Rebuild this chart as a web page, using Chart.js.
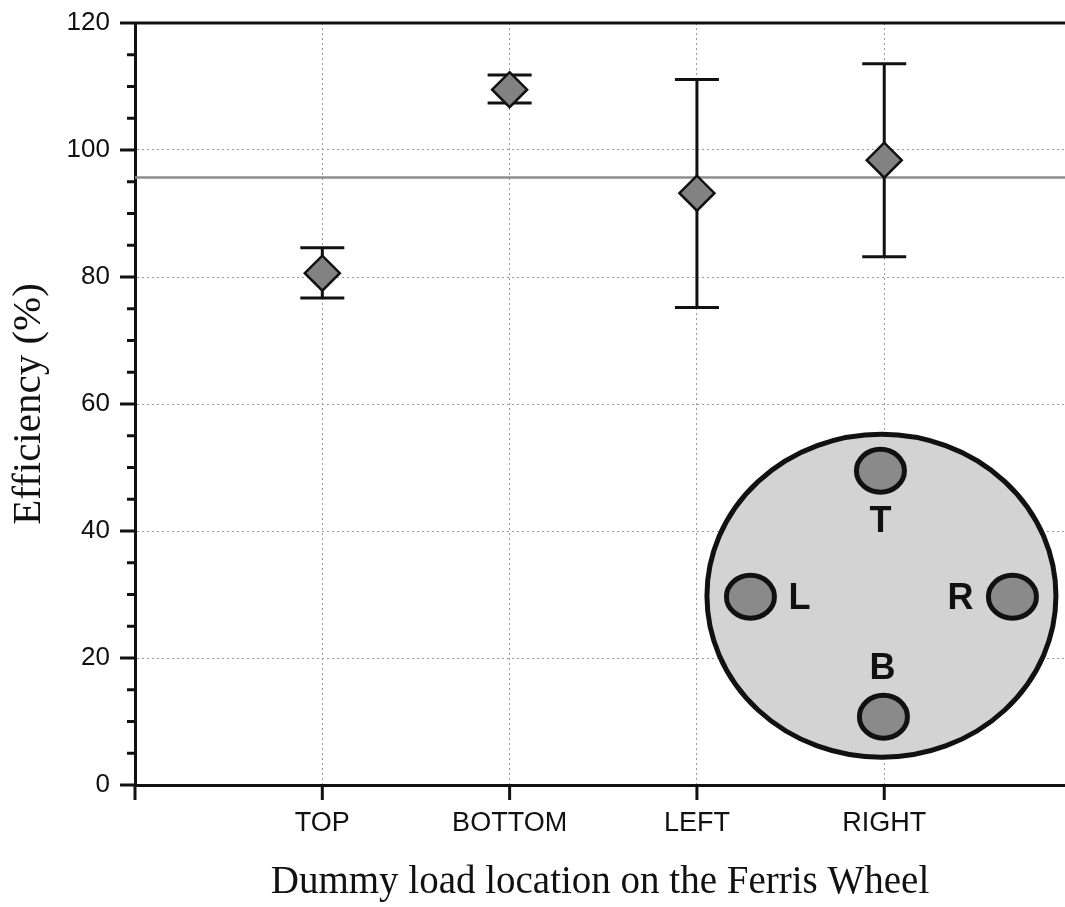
<!DOCTYPE html>
<html>
<head>
<meta charset="utf-8">
<title>Efficiency by dummy load location</title>
<script src="https://cdn.jsdelivr.net/npm/chart.js@4/dist/chart.umd.min.js"></script>
<style>
  html, body { margin: 0; padding: 0; background: #fff; overflow: hidden; }
  canvas { display: block; }
</style>
</head>
<body>
<canvas id="chart" width="1065" height="907"></canvas>
<script>
// Measured efficiency for each dummy load position on the wheel
const locations = ['TOP', 'BOTTOM', 'LEFT', 'RIGHT'];
const efficiency = [80.6, 109.5, 93.2, 98.4];
const errorUpper = [84.6, 111.8, 111.1, 113.6];
const errorLower = [76.7, 107.4, 75.2, 83.2];
const referenceEfficiency = 95.65;
const yTickLabels = [0, 20, 40, 60, 80, 100, 120];
const wheelLabels = ['T', 'L', 'R', 'B'];

const SANS = "'Liberation Sans', Arial, sans-serif";
const SERIF = "'Liberation Serif', 'Times New Roman', serif";
const INK = '#111';
const GRID = '#9a9a9a';

// Vertical error bars with caps, drawn under the diamonds
const errorBars = {
  id: 'errorBars',
  beforeDatasetDraw(chart, args) {
    if (args.index !== 0) return;
    const { ctx, scales: { x, y } } = chart;
    ctx.save();
    ctx.strokeStyle = INK;
    ctx.lineWidth = 3;
    efficiency.forEach((v, i) => {
      const px = x.getPixelForValue(i + 1);
      const hi = y.getPixelForValue(errorUpper[i]);
      const lo = y.getPixelForValue(errorLower[i]);
      const cap = 22;
      ctx.beginPath();
      ctx.moveTo(px, hi); ctx.lineTo(px, lo);
      ctx.moveTo(px - cap, hi); ctx.lineTo(px + cap, hi);
      ctx.moveTo(px - cap, lo); ctx.lineTo(px + cap, lo);
      ctx.stroke();
    });
    ctx.restore();
  }
};

// Schematic of the wheel with its four load seats
const wheelInset = {
  id: 'wheelInset',
  afterDatasetsDraw(chart) {
    const { ctx, scales: { x, y } } = chart;
    const cx = x.getPixelForValue(3.985);
    const cy = y.getPixelForValue(29.8);
    ctx.save();
    ctx.lineWidth = 5;
    ctx.strokeStyle = INK;
    ctx.fillStyle = '#d3d3d3';
    ctx.beginPath();
    ctx.ellipse(cx, cy, 174.5, 161.5, 0, 0, Math.PI * 2);
    ctx.fill();
    ctx.stroke();

    const seats = {
      T: { sx: -1, sy: -125, lx: -1, ly: -76 },
      L: { sx: -131, sy: 1, lx: -82, ly: 1 },
      R: { sx: 131, sy: 1, lx: 79, ly: 1 },
      B: { sx: 2, sy: 121, lx: 1, ly: 71 }
    };
    ctx.font = 'bold 36px ' + SANS;
    ctx.textAlign = 'center';
    ctx.textBaseline = 'middle';
    wheelLabels.forEach(name => {
      const s = seats[name];
      ctx.beginPath();
      ctx.ellipse(cx + s.sx, cy + s.sy, 24, 21.5, 0, 0, Math.PI * 2);
      ctx.fillStyle = '#8a8a8a';
      ctx.fill();
      ctx.stroke();
      ctx.fillStyle = INK;
      ctx.fillText(name, cx + s.lx, cy + s.ly + 2);
    });
    ctx.restore();
  }
};

// Outward tick marks (long major, short minor) and the top frame line
const axisTicks = {
  id: 'axisTicks',
  afterDraw(chart) {
    const { ctx, chartArea: a, scales: { x, y } } = chart;
    ctx.save();
    ctx.strokeStyle = INK;
    ctx.lineWidth = 3;
    ctx.beginPath();
    y.ticks.forEach(t => {
      const py = y.getPixelForValue(t.value);
      const len = yTickLabels.includes(t.value) ? 15 : 8;
      ctx.moveTo(a.left - len, py);
      ctx.lineTo(a.left, py);
    });
    x.ticks.forEach(t => {
      const px = x.getPixelForValue(t.value);
      ctx.moveTo(px, a.bottom);
      ctx.lineTo(px, a.bottom + 15);
    });
    const top = y.getPixelForValue(y.max);
    ctx.moveTo(a.left, top);
    ctx.lineTo(a.right, top);
    ctx.stroke();
    ctx.restore();
  }
};

new Chart(document.getElementById('chart'), {
  type: 'scatter',
  data: {
    datasets: [
      {
        label: 'Efficiency',
        data: locations.map((name, i) => ({ x: i + 1, y: efficiency[i] })),
        pointStyle: 'rectRot',
        pointRadius: 17.5,
        pointHoverRadius: 17.5,
        backgroundColor: '#828282',
        borderColor: INK,
        pointBorderWidth: 2.5,
        showLine: false
      },
      {
        label: 'Reference',
        data: [{ x: 0, y: referenceEfficiency }, { x: 5, y: referenceEfficiency }],
        showLine: true,
        borderColor: '#8e8e8e',
        borderWidth: 2.5,
        pointRadius: 0,
        pointHoverRadius: 0
      }
    ]
  },
  options: {
    responsive: false,
    animation: false,
    events: [],
    layout: { autoPadding: false, padding: { top: 23, right: 0, bottom: 0, left: 0 } },
    plugins: {
      legend: { display: false },
      tooltip: { enabled: false }
    },
    scales: {
      x: {
        type: 'linear',
        min: 0,
        max: 4.965,
        afterFit(s) {
          s.height = 122;
          s.paddingLeft = 0; s.paddingRight = 0;
        },
        ticks: {
          stepSize: 1,
          includeBounds: false,
          autoSkip: false,
          maxRotation: 0,
          padding: 22,
          color: INK,
          font: { family: SANS, size: 27 },
          callback: v => locations[v - 1] ?? ''
        },
        grid: {
          drawTicks: false,
          lineWidth: 1,
          color: c => (c.tick && c.tick.value >= 1 && c.tick.value <= 4) ? GRID : 'rgba(0,0,0,0)'
        },
        border: { color: INK, width: 3, dash: [2, 3] },
        title: {
          display: true,
          text: 'Dummy load location on the Ferris Wheel',
          color: INK,
          font: { family: SERIF, size: 39, weight: 'normal' },
          padding: { top: 0, bottom: 1 }
        }
      },
      y: {
        min: 0,
        max: 120,
        afterFit(s) {
          s.width = 135;
          s.paddingTop = 0; s.paddingBottom = 0;
        },
        ticks: {
          stepSize: 5,
          autoSkip: false,
          padding: 25,
          color: INK,
          font: { family: SANS, size: 26 },
          callback: v => yTickLabels.includes(v) ? String(v) : ''
        },
        grid: {
          drawTicks: false,
          lineWidth: 1,
          color: c => (c.tick && yTickLabels.includes(c.tick.value) && c.tick.value > 0 && c.tick.value < 120) ? GRID : 'rgba(0,0,0,0)'
        },
        border: { color: INK, width: 3, dash: [2, 3] },
        title: {
          display: true,
          text: 'Efficiency (%)',
          color: INK,
          font: { family: SERIF, size: 41, weight: 'normal' },
          padding: { top: 5, bottom: 0 }
        }
      }
    }
  },
  plugins: [errorBars, wheelInset, axisTicks]
});
</script>
</body>
</html>
